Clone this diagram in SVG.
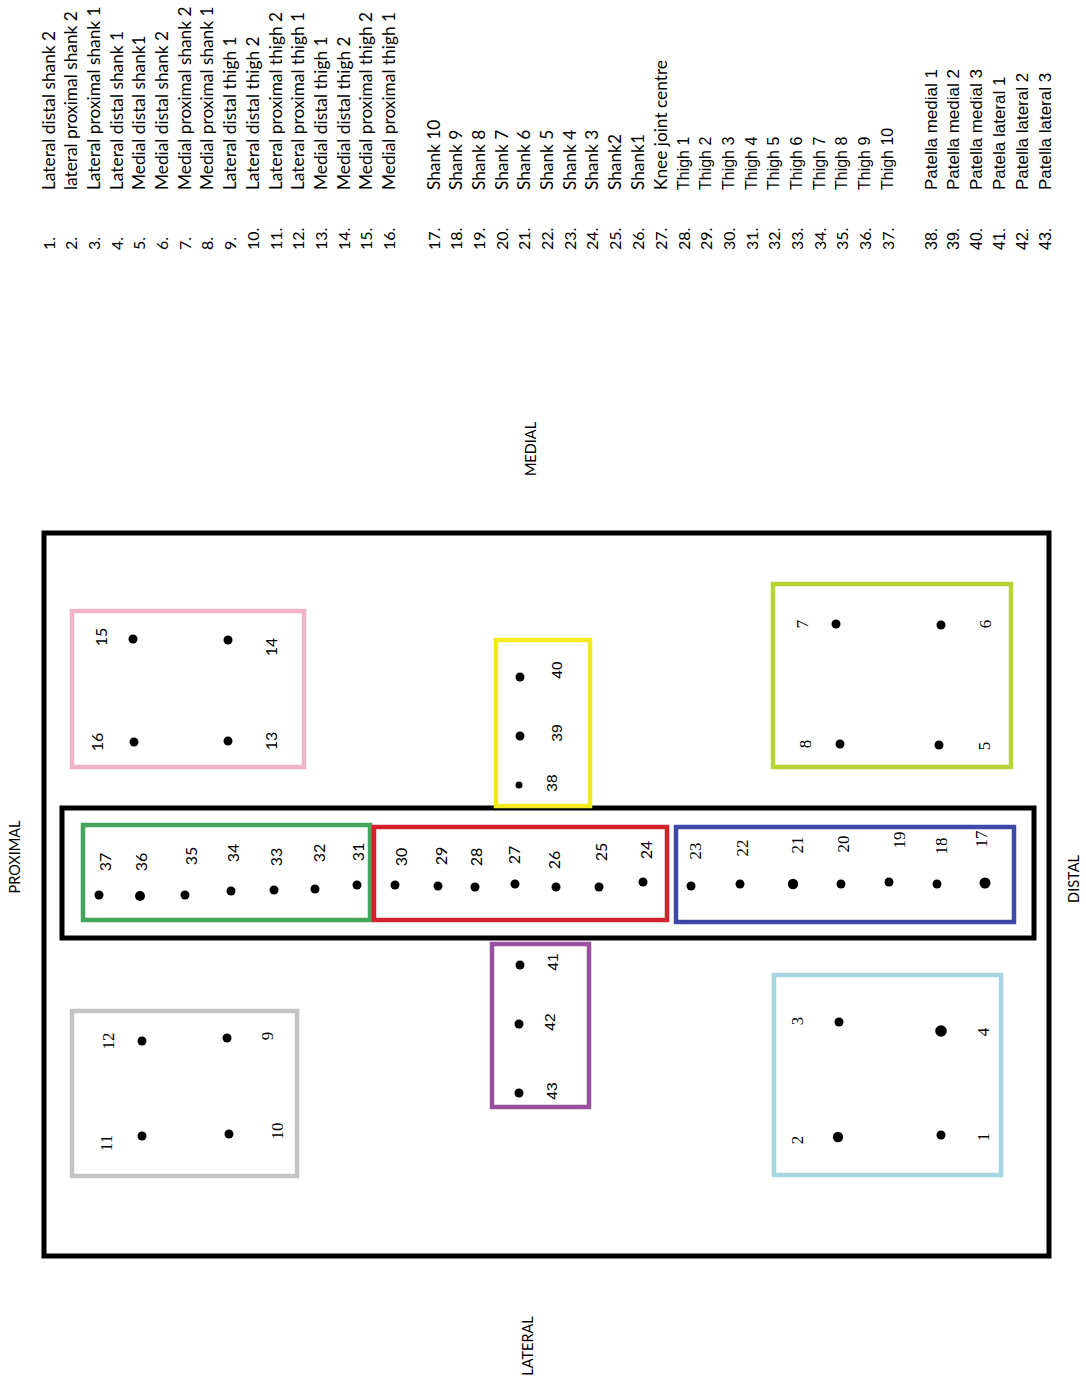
<svg xmlns="http://www.w3.org/2000/svg" width="1086" height="1382" viewBox="0 0 1086 1382">
<style>
.t{font-family:Lato,"Liberation Sans",sans-serif;font-size:16px;fill:#000;dominant-baseline:central}
.l{font-family:Lato,"Liberation Sans",sans-serif;font-size:17.3px;fill:#000;dominant-baseline:central}
.a{font-family:"Liberation Sans",Arial,sans-serif;font-size:16px;fill:#000;dominant-baseline:central}
.pa{font-family:"Liberation Sans",Arial,sans-serif;font-size:17px;fill:#000;dominant-baseline:central}
.n{font-family:Lato,"Liberation Sans",sans-serif;font-size:16px;fill:#000;dominant-baseline:central;text-anchor:middle}
.s{font-family:"Liberation Serif","Times New Roman",serif;font-size:17px;fill:#000;dominant-baseline:central;text-anchor:middle}
.p{font-family:"Liberation Sans",Arial,sans-serif;font-size:15.5px;fill:#000;dominant-baseline:central;text-anchor:middle}
.h{font-family:Lato,"Liberation Sans",sans-serif;font-size:14.5px;fill:#000;dominant-baseline:central;text-anchor:middle}
.box{fill:none;stroke-width:4.5}
.blk{fill:none;stroke:#000;stroke-width:5}
</style>
<rect width="1086" height="1382" fill="#fff"/>
<g id="legend" transform="rotate(-90)">
<text class="t" x="-250" y="48">1.</text><text class="l" x="-190" y="48">Lateral distal shank 2</text>
<text class="t" x="-250" y="70.7">2.</text><text class="l" x="-190" y="70.7">lateral proximal shank 2</text>
<text class="t" x="-250" y="93.4">3.</text><text class="l" x="-190" y="93.4">Lateral proximal shank 1</text>
<text class="t" x="-250" y="116.1">4.</text><text class="l" x="-190" y="116.1">Lateral distal shank 1</text>
<text class="t" x="-250" y="138.8">5.</text><text class="l" x="-190" y="138.8">Medial distal shank1</text>
<text class="t" x="-250" y="161.5">6.</text><text class="l" x="-190" y="161.5">Medial distal shank 2</text>
<text class="t" x="-250" y="184.2">7.</text><text class="l" x="-190" y="184.2">Medial proximal shank 2</text>
<text class="t" x="-250" y="206.9">8.</text><text class="l" x="-190" y="206.9">Medial proximal shank 1</text>
<text class="t" x="-250" y="229.6">9.</text><text class="l" x="-190" y="229.6">Lateral distal thigh 1</text>
<text class="t" x="-250" y="252.3">10.</text><text class="l" x="-190" y="252.3">Lateral distal thigh 2</text>
<text class="t" x="-250" y="275">11.</text><text class="l" x="-190" y="275">Lateral proximal thigh 2</text>
<text class="t" x="-250" y="297.7">12.</text><text class="l" x="-190" y="297.7">Lateral proximal thigh 1</text>
<text class="t" x="-250" y="320.4">13.</text><text class="l" x="-190" y="320.4">Medial distal thigh 1</text>
<text class="t" x="-250" y="343.1">14.</text><text class="l" x="-190" y="343.1">Medial distal thigh 2</text>
<text class="t" x="-250" y="365.8">15.</text><text class="l" x="-190" y="365.8">Medial proximal thigh 2</text>
<text class="t" x="-250" y="388.5">16.</text><text class="l" x="-190" y="388.5">Medial proximal thigh 1</text>
<text class="t" x="-250" y="433">17.</text><text class="l" x="-190" y="433">Shank 10</text>
<text class="t" x="-250" y="455.7">18.</text><text class="l" x="-190" y="455.7">Shank 9</text>
<text class="t" x="-250" y="478.4">19.</text><text class="l" x="-190" y="478.4">Shank 8</text>
<text class="t" x="-250" y="501.1">20.</text><text class="l" x="-190" y="501.1">Shank 7</text>
<text class="t" x="-250" y="523.8">21.</text><text class="l" x="-190" y="523.8">Shank 6</text>
<text class="t" x="-250" y="546.5">22.</text><text class="l" x="-190" y="546.5">Shank 5</text>
<text class="t" x="-250" y="569.2">23.</text><text class="l" x="-190" y="569.2">Shank 4</text>
<text class="t" x="-250" y="591.9">24.</text><text class="l" x="-190" y="591.9">Shank 3</text>
<text class="t" x="-250" y="614.6">25.</text><text class="l" x="-190" y="614.6">Shank2</text>
<text class="t" x="-250" y="637.3">26.</text><text class="l" x="-190" y="637.3">Shank1</text>
<text class="t" x="-250" y="660">27.</text><text class="l" x="-190" y="660">Knee joint centre</text>
<text class="t" x="-250" y="683">28.</text><text class="a" x="-190" y="683">Thigh 1</text>
<text class="t" x="-250" y="705.7">29.</text><text class="a" x="-190" y="705.7">Thigh 2</text>
<text class="t" x="-250" y="728.3">30.</text><text class="a" x="-190" y="728.3">Thigh 3</text>
<text class="t" x="-250" y="751">31.</text><text class="a" x="-190" y="751">Thigh 4</text>
<text class="t" x="-250" y="773.7">32.</text><text class="a" x="-190" y="773.7">Thigh 5</text>
<text class="t" x="-250" y="796.3">33.</text><text class="a" x="-190" y="796.3">Thigh 6</text>
<text class="t" x="-250" y="819">34.</text><text class="a" x="-190" y="819">Thigh 7</text>
<text class="t" x="-250" y="841.7">35.</text><text class="a" x="-190" y="841.7">Thigh 8</text>
<text class="t" x="-250" y="864.3">36.</text><text class="a" x="-190" y="864.3">Thigh 9</text>
<text class="t" x="-250" y="887">37.</text><text class="a" x="-190" y="887">Thigh 10</text>
<text class="a" x="-250" y="931">38.</text><text class="pa" x="-190" y="931">Patella medial 1</text>
<text class="a" x="-250" y="953.8">39.</text><text class="pa" x="-190" y="953.8">Patella medial 2</text>
<text class="a" x="-250" y="976.6">40.</text><text class="pa" x="-190" y="976.6">Patella medial 3</text>
<text class="a" x="-250" y="999.4">41.</text><text class="pa" x="-190" y="999.4">Patela lateral 1</text>
<text class="a" x="-250" y="1022.2">42.</text><text class="pa" x="-190" y="1022.2">Patella lateral 2</text>
<text class="a" x="-250" y="1045">43.</text><text class="pa" x="-190" y="1045">Patella lateral 3</text>
</g>
<g id="directions" transform="rotate(-90)">
<text class="h" x="-449" y="530">MEDIAL</text>
<text class="h" x="-1346" y="527">LATERAL</text>
<text class="h" x="-857" y="14">PROXIMAL</text>
<text class="h" x="-879" y="1073">DISTAL</text>
</g>
<g id="connectors"></g>
<g id="frame">
<rect class="blk" x="44" y="533" width="1005" height="723"/>
<rect class="blk" x="62" y="808" width="972" height="130"/>
</g>
<g id="pink-medial-thigh">
<rect class="box" stroke="#efb2c7" x="72" y="611" width="232" height="156"/>
<circle cx="133" cy="639" r="4.5"/><circle cx="228" cy="640" r="4.5"/><circle cx="134" cy="742" r="4.5"/><circle cx="228" cy="741" r="4.5"/>
<g transform="rotate(-90)">
<text class="n" x="-637" y="100">15</text><text class="n" x="-647" y="270">14</text><text class="n" x="-742" y="96">16</text><text class="n" x="-741" y="270">13</text>
</g>
</g>
<g id="yellow-patella-medial">
<rect class="box" stroke="#f3ea1f" x="496" y="640" width="94" height="166"/>
<circle cx="520" cy="677" r="4.5"/><circle cx="520" cy="736" r="4.5"/><circle cx="519" cy="785" r="3.5"/>
<g transform="rotate(-90)">
<text class="p" x="-670" y="556">40</text><text class="p" x="-733" y="556">39</text><text class="p" x="-783" y="551">38</text>
</g>
</g>
<g id="lime-medial-shank">
<rect class="box" stroke="#b6d437" x="773" y="584" width="238" height="183"/>
<circle cx="836" cy="624" r="4.5"/><circle cx="941" cy="625" r="4.5"/><circle cx="840" cy="744" r="4.5"/><circle cx="939" cy="745" r="4.5"/>
<g transform="rotate(-90)">
<text class="s" x="-624" y="802">7</text><text class="s" x="-624" y="985">6</text><text class="s" x="-744" y="805">8</text><text class="s" x="-746" y="984">5</text>
</g>
</g>
<g id="green-thigh">
<rect class="box" stroke="#43a55a" x="83" y="825" width="287" height="95"/>
<circle cx="99" cy="895" r="4.5"/><circle cx="140" cy="896" r="5"/><circle cx="185" cy="895" r="4.5"/><circle cx="231" cy="891" r="4.5"/><circle cx="274" cy="890" r="4.5"/><circle cx="315" cy="889" r="4.5"/><circle cx="357" cy="885" r="4.5"/>
<g transform="rotate(-90)">
<text class="n" x="-862" y="104">37</text><text class="n" x="-862" y="140">36</text><text class="n" x="-856" y="190">35</text><text class="n" x="-853" y="232">34</text><text class="n" x="-857" y="275">33</text><text class="n" x="-853" y="318">32</text><text class="n" x="-852" y="357">31</text>
</g>
</g>
<g id="red-knee">
<rect class="box" stroke="#d3222b" x="374" y="827" width="293" height="93"/>
<circle cx="395" cy="885" r="4.5"/><circle cx="438" cy="886" r="4.5"/><circle cx="475" cy="887" r="4.5"/><circle cx="515" cy="884" r="4.5"/><circle cx="556" cy="887" r="4.5"/><circle cx="599" cy="887" r="4.5"/><circle cx="643" cy="882" r="4.5"/>
<g transform="rotate(-90)">
<text class="n" x="-857" y="400">30</text><text class="n" x="-856" y="440">29</text><text class="n" x="-857" y="475">28</text><text class="n" x="-855" y="513">27</text><text class="n" x="-860" y="553">26</text><text class="n" x="-852" y="600">25</text><text class="n" x="-850" y="645">24</text>
</g>
</g>
<g id="blue-shank">
<rect class="box" stroke="#3e48a6" x="676" y="827" width="338" height="95"/>
<circle cx="691" cy="886" r="4.5"/><circle cx="740" cy="884" r="4.5"/><circle cx="793" cy="884" r="5.2"/><circle cx="841" cy="884" r="4.5"/><circle cx="889" cy="882" r="4.5"/><circle cx="937" cy="884" r="4.5"/><circle cx="985" cy="883" r="5.5"/>
<g transform="rotate(-90)">
<text class="s" x="-851" y="695">23</text><text class="s" x="-848" y="742">22</text><text class="s" x="-845" y="797">21</text><text class="s" x="-844" y="843">20</text><text class="s" x="-840" y="899">19</text><text class="s" x="-846" y="941">18</text><text class="s" x="-839" y="981">17</text>
</g>
</g>
<g id="gray-lateral-thigh">
<rect class="box" stroke="#c4c4c4" x="72" y="1011" width="225" height="165"/>
<circle cx="142" cy="1041" r="4.5"/><circle cx="227" cy="1038" r="4.5"/><circle cx="142" cy="1136" r="4.5"/><circle cx="229" cy="1134" r="4.5"/>
<g transform="rotate(-90)">
<text class="s" x="-1041" y="108">12</text><text class="s" x="-1036" y="267">9</text><text class="s" x="-1143" y="106">11</text><text class="s" x="-1131" y="277">10</text>
</g>
</g>
<g id="purple-patella-lateral">
<rect class="box" stroke="#9a509e" x="492" y="944" width="97" height="163"/>
<circle cx="520" cy="965" r="4.5"/><circle cx="519" cy="1024" r="4.5"/><circle cx="519" cy="1093" r="4.5"/>
<g transform="rotate(-90)">
<text class="p" x="-962" y="552">41</text><text class="p" x="-1022" y="549">42</text><text class="p" x="-1091" y="551">43</text>
</g>
</g>
<g id="lightblue-lateral-shank">
<rect class="box" stroke="#a6d6e1" x="774" y="975" width="227" height="200"/>
<circle cx="839" cy="1022" r="4.5"/><circle cx="941" cy="1031" r="5.8"/><circle cx="838" cy="1137" r="5.2"/><circle cx="941" cy="1135" r="4.5"/>
<g transform="rotate(-90)">
<text class="s" x="-1021" y="797">3</text><text class="s" x="-1032" y="983">4</text><text class="s" x="-1140" y="797">2</text><text class="s" x="-1137" y="983">1</text>
</g>
</g>
</svg>
